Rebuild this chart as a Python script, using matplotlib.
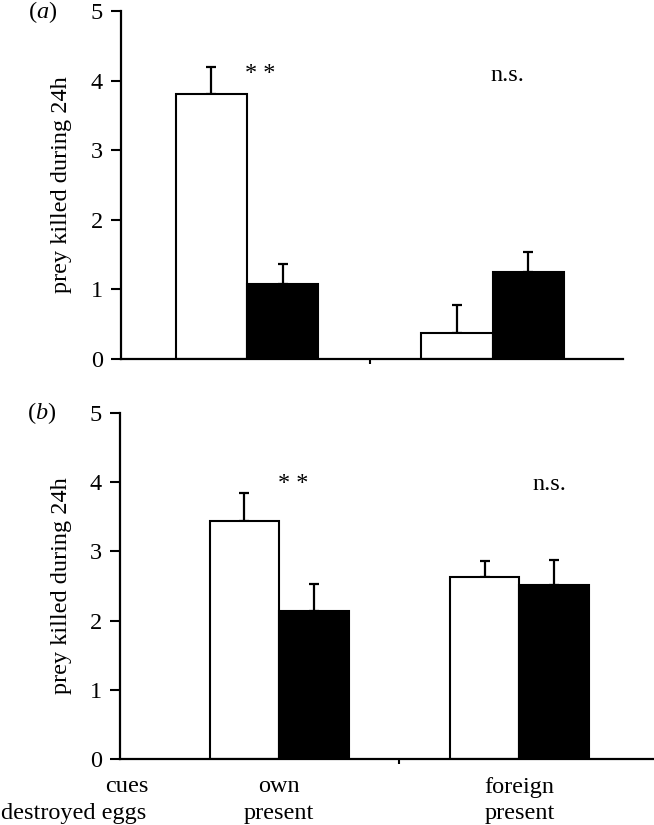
import numpy as np
import matplotlib
matplotlib.use('Agg')
import matplotlib.pyplot as plt
import matplotlib.transforms as mtransforms

plt.rcParams['font.family'] = 'Liberation Serif'
plt.rcParams['mathtext.fontset'] = 'custom'
plt.rcParams['mathtext.rm'] = 'Liberation Serif'
plt.rcParams['mathtext.it'] = 'Liberation Serif:italic'

# data
cues = ['own', 'foreign']
destroyed = ['present', 'present']

a_white = [3.81, 0.37]
a_white_err = [0.39, 0.41]
a_black = [1.08, 1.25]
a_black_err = [0.29, 0.29]

b_white = [3.44, 2.63]
b_white_err = [0.40, 0.23]
b_black = [2.14, 2.51]
b_black_err = [0.39, 0.37]

a_marks = ['* *', 'n.s.']
b_marks = ['* *', 'n.s.']

fig = plt.figure(figsize=(6.54, 8.25), dpi=100)
ax_a = fig.add_axes([0.185, 0.5648, 0.7676, 0.4219])
ax_b = fig.add_axes([0.1835, 0.08, 0.8165, 0.4194])

fs = 17.5
w = 0.29
x = np.arange(len(cues))


def draw_panel(ax, white, white_err, black, black_err, marks, mark_pos, xlim, label):
    ax.bar(x - w / 2, white, w, color='white', edgecolor='black', linewidth=1.5, zorder=2)
    ax.bar(x + w / 2, black, w, color='black', edgecolor='black', linewidth=1.5, zorder=2)
    ax.errorbar(x - w / 2, white, yerr=[np.zeros(len(white)), white_err], fmt='none',
                ecolor='black', elinewidth=1.6, capsize=3.6, capthick=1.6, zorder=1)
    ax.errorbar(x + w / 2, black, yerr=[np.zeros(len(black)), black_err], fmt='none',
                ecolor='black', elinewidth=1.6, capsize=3.6, capthick=1.6, zorder=1)
    for i, m in enumerate(marks):
        dx, yy = mark_pos[i]
        ax.text(x[i] + dx, yy, m, ha='center', va='baseline', fontsize=fs)
    ax.set_xlim(xlim)
    ax.set_ylim(0, 5)
    ax.set_yticks(range(6))
    ax.set_xticks([0.5])
    ax.set_xticklabels([''])
    ax.tick_params(axis='y', direction='out', length=7, width=1.5, labelsize=fs, pad=6)
    ax.tick_params(axis='x', direction='out', length=3.6, width=1.5)
    for s in ['top', 'right']:
        ax.spines[s].set_visible(False)
    for s in ['left', 'bottom']:
        ax.spines[s].set_linewidth(1.6)
    ax.set_ylabel('prey killed during 24h', fontsize=fs)
    ax.text(-0.16, 1.0, label, transform=ax.transAxes, ha='center', va='center', fontsize=fs)


draw_panel(ax_a, a_white, a_white_err, a_black, a_black_err, a_marks,
           [(0.055, 4.02), (0.06, 4.0)], (-0.512, 1.53), r'($\it{a}$)')
ax_a.yaxis.set_label_coords(-0.0976, 0.5)
ax_a.texts[-1].set_position((-0.157, 0.997))

draw_panel(ax_b, b_white, b_white_err, b_black, b_black_err, b_marks,
           [(0.058, 3.9), (0.125, 3.89)], (-0.663, 1.56), r'($\it{b}$)')
ax_b.yaxis.set_label_coords(-0.0899, 0.5)
ax_b.texts[-1].set_position((-0.146, 1.0))

# category labels under panel b
trans = mtransforms.blended_transform_factory(ax_b.transData, fig.transFigure)
for i in range(len(cues)):
    ax_b.text(x[i], 1 - 787 / 825, cues[i], transform=trans, ha='center', va='center', fontsize=fs)
    ax_b.text(x[i], 1 - 813 / 825, destroyed[i], transform=trans, ha='center', va='center', fontsize=fs)
fig.text(127 / 654, 1 - 787 / 825, 'cues', ha='center', va='center', fontsize=fs)
fig.text(74 / 654, 1 - 813 / 825, 'destroyed eggs', ha='center', va='center', fontsize=fs)

fig.savefig('out.png', dpi=100)
